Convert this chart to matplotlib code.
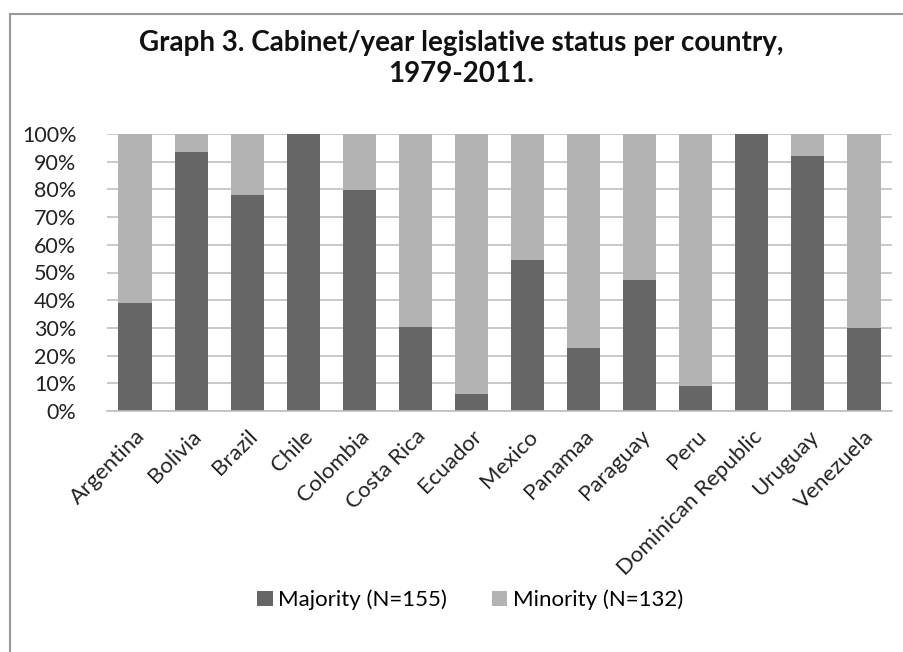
import numpy as np
from matplotlib import pyplot as plt
from matplotlib.lines import Line2D
from matplotlib.ticker import PercentFormatter

countries = ["Argentina", "Bolivia", "Brazil", "Chile", "Colombia", "Costa Rica",
             "Ecuador", "Mexico", "Panamaa", "Paraguay", "Peru",
             "Dominican Republic", "Uruguay", "Venezuela"]
majority = [39.1, 93.4, 77.8, 100.0, 79.8, 30.3, 6.0, 54.4, 22.6, 47.2, 9.0, 100.0, 92.2, 29.8]
minority = [100 - v for v in majority]

plt.rcParams['font.family'] = ['Lato', 'DejaVu Sans']

fig = plt.figure(figsize=(9.04, 6.52), dpi=100)
ax = fig.add_axes([107 / 904, 1 - 411 / 652, 785 / 904, 277 / 652])

x = np.arange(len(countries))
ax.bar(x, majority, width=0.59, color="#666666", label="Majority (N=155)", zorder=2)
ax.bar(x, minority, width=0.59, bottom=majority, color="#b3b3b3",
       label="Minority (N=132)", zorder=2)

ax.set_xlim(-0.5, len(countries) - 0.5)
ax.set_ylim(0, 100)
ax.set_yticks(np.arange(0, 101, 10))
ax.yaxis.set_major_formatter(PercentFormatter(decimals=0))
ax.grid(axis="y", color="#c0c0c0", linewidth=1.2, zorder=0)
for s in ["top", "right", "left"]:
    ax.spines[s].set_visible(False)
ax.spines["bottom"].set_color("#c0c0c0")
ax.spines["bottom"].set_linewidth(1.2)
ax.tick_params(length=0, colors="#222222")
ax.tick_params(axis="y", pad=22, labelsize=15.5)
ax.tick_params(axis="x", pad=11, labelsize=16)
ax.set_xticks(x)
ax.set_xticklabels(countries, rotation=45, ha="right", rotation_mode="anchor")

fig.text(0.51, 0.91, "Graph 3. Cabinet/year legislative status per country,\n1979-2011.",
         ha="center", va="center", fontsize=20, fontweight="bold",
         linespacing=1.25, color="#111111")

fig.legend(loc="center", bbox_to_anchor=(0.52, 0.08), ncol=2, frameon=False,
           fontsize=16, handlelength=0.7, handleheight=0.7, handletextpad=0.25,
           columnspacing=2.0)

# chart frame
fig.add_artist(Line2D([10 / 904, 10 / 904], [0, 1 - 14 / 652], color="#999999",
                      linewidth=1.5, transform=fig.transFigure))
fig.add_artist(Line2D([10 / 904, 1], [1 - 14 / 652, 1 - 14 / 652], color="#999999",
                      linewidth=1.5, transform=fig.transFigure))

fig.savefig("out.png", dpi=100)
